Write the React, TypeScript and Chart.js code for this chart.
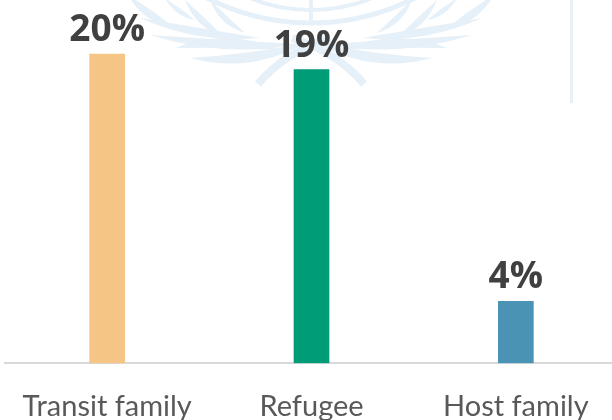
import React, { useEffect, useRef } from "react";
import { Chart, registerables } from "chart.js";

Chart.register(...registerables);

const categories: string[] = ["Transit family", "Refugee", "Host family"];
const values: number[] = [20, 19, 4];
const barColors: string[] = ["#F4C584", "#009B77", "#4A93B5"];
const valueSuffix = "%";

const WM = "#e6f0f8";

const watermarkPlugin = {
  id: "watermark",
  beforeDraw(chart: any) {
    const ctx = chart.ctx as CanvasRenderingContext2D;
    ctx.save();
    ctx.fillStyle = WM;
    ctx.strokeStyle = WM;
    const cx = 311;
    ctx.lineWidth = 5;
    ctx.beginPath();
    ctx.arc(cx, -205, 228, Math.PI * 0.25, Math.PI * 0.75);
    ctx.stroke();
    ctx.lineWidth = 4;
    ctx.beginPath();
    ctx.arc(cx, -150, 160, Math.PI * 0.3, Math.PI * 0.7);
    ctx.stroke();
    ctx.beginPath();
    ctx.moveTo(cx, 0);
    ctx.lineTo(cx, 22);
    ctx.stroke();
    const leaf = (x1: number, y1: number, x2: number, y2: number, bend: number, w: number) => {
      const mx = (x1 + x2) / 2, my = (y1 + y2) / 2;
      const dx = x2 - x1, dy = y2 - y1;
      const len = Math.hypot(dx, dy);
      const nx = -dy / len, ny = dx / len;
      ctx.beginPath();
      ctx.moveTo(x1, y1);
      ctx.quadraticCurveTo(mx + nx * (bend + w), my + ny * (bend + w), x2, y2);
      ctx.quadraticCurveTo(mx + nx * (bend - w), my + ny * (bend - w), x1, y1);
      ctx.fill();
    };
    const side = (s: number) => {
      const X = (x: number) => cx + s * (x - cx);
      const b = s;
      leaf(X(128), -5, X(175), 28, 6 * b, 8);
      leaf(X(165), -2, X(195), 20, 4 * b, 5);
      leaf(X(185), 0, X(225), 38, 6 * b, 7);
      leaf(X(210), 0, X(245), 33, 6 * b, 6);
      leaf(X(140), 18, X(260), 38, 8 * b, 8);
      leaf(X(150), 35, X(300), 44, 10 * b, 9);
      leaf(X(175), 48, X(280), 50, -12 * b, 10);
      leaf(X(190), 58, X(305), 43, 14 * b, 10);
    };
    side(1);
    side(-1);
    ctx.lineWidth = 8;
    ctx.lineCap = "butt";
    ctx.beginPath();
    ctx.moveTo(258, 84);
    ctx.quadraticCurveTo(285, 52, 330, 38);
    ctx.stroke();
    ctx.beginPath();
    ctx.moveTo(364, 84);
    ctx.quadraticCurveTo(337, 52, 292, 38);
    ctx.stroke();
    ctx.fillRect(570, 0, 3, 103);
    ctx.restore();
  },
};

const valueLabelPlugin = {
  id: "valueLabels",
  afterDatasetsDraw(chart: any) {
    const ctx = chart.ctx as CanvasRenderingContext2D;
    const meta = chart.getDatasetMeta(0);
    ctx.save();
    ctx.font = "bold 37px 'Open Sans'";
    ctx.fillStyle = "#404040";
    ctx.textAlign = "center";
    ctx.textBaseline = "alphabetic";
    meta.data.forEach((el: any, i: number) => {
      ctx.fillText(String(values[i]) + valueSuffix, el.x, el.y - 13);
    });
    ctx.restore();
  },
};

export default function App() {
  const ref = useRef<HTMLCanvasElement | null>(null);
  useEffect(() => {
    document.body.style.margin = "0";
    if (!ref.current) return;
    const chart = new Chart(ref.current, {
      type: "bar",
      data: {
        labels: categories,
        datasets: [
          {
            data: values,
            backgroundColor: barColors,
            barThickness: 35,
          },
        ],
      },
      options: {
        animation: false,
        responsive: false,
        maintainAspectRatio: false,
        layout: { padding: { left: 5, right: 6, top: 0, bottom: -22 } },
        plugins: { legend: { display: false }, tooltip: { enabled: false } },
        scales: {
          x: {
            grid: { display: false },
            border: { display: true, color: "#d9d9d9", width: 2 },
            ticks: {
              color: "#595959",
              font: { family: "Lato", size: 29 },
              padding: 18,
              maxRotation: 0,
            },
          },
          y: {
            display: false,
            min: 0,
            max: 23.5,
          },
        },
      },
      plugins: [watermarkPlugin, valueLabelPlugin],
    });
    return () => chart.destroy();
  }, []);
  return (
    <div style={{ width: 612, height: 420, overflow: "hidden", position: "relative", background: "#fff" }}>
      <canvas ref={ref} width={624} height={420} style={{ display: "block" }} />
    </div>
  );
}
